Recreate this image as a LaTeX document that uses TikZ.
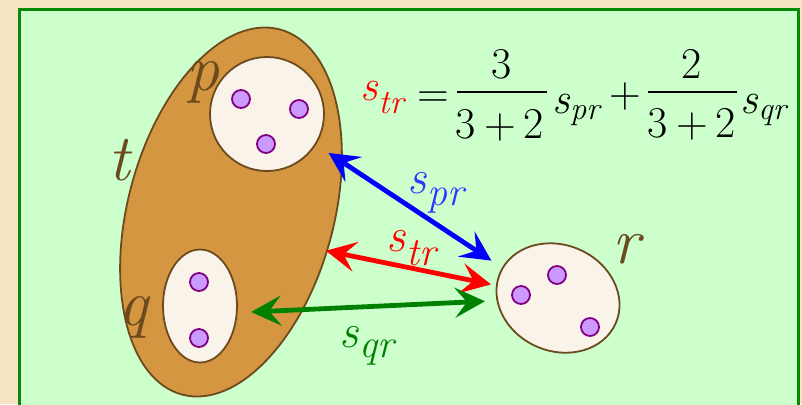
\documentclass[tikz,border=0pt]{standalone}
\usepackage{fontspec}
\usepackage{xcolor}
\usepackage{tikz}
\usetikzlibrary{arrows.meta,shapes.geometric}

\definecolor{parchment}{HTML}{F5E3C2}
\definecolor{panel}{HTML}{CCFFCC}
\definecolor{panelrim}{HTML}{078A07}
\definecolor{clay}{HTML}{D49640}
\definecolor{umber}{HTML}{6B4A1E}
\definecolor{cream}{HTML}{FAF3EA}
\definecolor{lilac}{HTML}{CC99FF}
\definecolor{plum}{HTML}{800080}
\definecolor{ink}{HTML}{3333FF}
\definecolor{leaf}{HTML}{008000}

\newcommand{\simlab}[3]{\textit{s}\raisebox{#3}{\fontsize{#2}{#2}\selectfont\textit{#1}}}

\begin{document}
\begin{tikzpicture}[x=0.5pt,y=-0.5pt,
  setshape/.style={draw=umber,line width=0.9pt,fill=cream,inner sep=0pt},
  member/.style={circle,draw=plum,line width=0.9pt,fill=lilac,minimum size=9pt,inner sep=0pt},
  setlabel/.style={text=umber,font=\fontsize{33}{38}\selectfont\itshape,inner sep=0pt,anchor=base},
  pairlink/.style={line width=2.4pt,{Stealth[length=15pt,width=15pt,inset=6pt]}-{Stealth[length=15pt,width=15pt,inset=6pt]}},
  eqpart/.style={font=\fontsize{22}{26}\selectfont,inner sep=0pt,anchor=base},
  simtag/.style={font=\fontsize{24}{28}\selectfont,inner sep=0pt,anchor=base west}]
 \useasboundingbox (0,0) rectangle (802,404);
 \fill[parchment] (0,0) rectangle (802,404);
 \draw[panelrim,fill=panel,line width=1.5pt] (19.5,9.5) rectangle (798,420);
 % sets
 \node[setshape,ellipse,fill=clay,minimum width=189pt,minimum height=103pt,rotate=75] (t) at (231,212) {};
 \node[setshape,circle,minimum size=57pt] (p) at (267,114) {};
 \node[setshape,ellipse,minimum width=37pt,minimum height=56.5pt] (q) at (200,306) {};
 \node[setshape,ellipse,minimum width=63pt,minimum height=53pt,rotate=-23.5] (r) at (558,298) {};
 % members
 \node[member] (p1) at (241,99) {};
 \node[member] (p2) at (299,109) {};
 \node[member] (p3) at (266,144) {};
 \node[member] (q1) at (199,282) {};
 \node[member] (q2) at (199,338) {};
 \node[member] (r1) at (557,275) {};
 \node[member] (r2) at (521,295) {};
 \node[member] (r3) at (590,327) {};
 \node[setlabel] (tname) at (119,180) {t};
 \node[setlabel] (pname) at (203,90) {p};
 \node[setlabel] (qname) at (133,325) {q};
 \node[setlabel] (rname) at (626,263) {r};
 % similarities
 \draw[pairlink,blue,shorten <=7.5pt,shorten >=6.3pt] (p.-32.6) -- (r.175.9);
 \draw[pairlink,red,shorten <=-1pt,shorten >=2.5pt] (t.-97) -- (r.192.4);
 \draw[pairlink,leaf,shorten <=6.75pt,shorten >=5.8pt] (q.-10.2) -- (r.206.7);
 \node[simtag,text=ink] (spr) at (407,193) {\simlab{pr}{20}{-6pt}};
 \node[simtag,text=red] (str) at (386,251) {\simlab{tr}{20}{-7pt}};
 \node[simtag,text=leaf] (sqr) at (339,347) {\simlab{qr}{20}{-5pt}};
 % formula
 \node[eqpart,anchor=base west,text=red] (lhs) at (360,100) {\simlab{tr}{17}{-6.5pt}};
 \node[eqpart] (eq) at (433,107) {=};
 \node[eqpart] (num1) at (502,78) {3};
 \node[eqpart] (den1) at (500,138) {3\hspace{4pt}+\hspace{4pt}2};
 \draw[line width=0.9pt] (457,92) -- (547,92);
 \node[eqpart,anchor=base west] (spr2) at (552,113) {\simlab{pr}{16}{-3pt}};
 \node[eqpart] (plus) at (625,107) {+};
 \node[eqpart] (num2) at (692,78) {2};
 \node[eqpart] (den2) at (692,137) {3\hspace{4pt}+\hspace{4pt}2};
 \draw[line width=0.9pt] (648,92) -- (737,92);
 \node[eqpart,anchor=base west] (sqr2) at (740,113) {\simlab{qr}{16}{-3pt}};
\end{tikzpicture}
\end{document}
